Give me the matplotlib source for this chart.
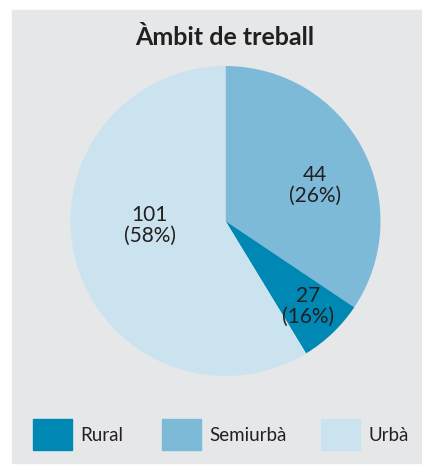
import matplotlib
matplotlib.use('Agg')
import matplotlib.pyplot as plt
from matplotlib.patches import Rectangle

plt.rcParams['font.family'] = ['Lato', 'DejaVu Sans']

# Data (wedge shares as drawn in the original graphic; labels as printed)
categories = ['Rural', 'Semiurbà', 'Urbà']
counts = [27, 44, 101]
percents = [16, 26, 58]
drawn_share = [6.9, 34.4, 58.7]
colors = ['#0088b5', '#7dbad8', '#cbe3ef']
bg = '#e6e7e9'

fig = plt.figure(figsize=(4.22, 4.65), dpi=100)
fig.patches.append(Rectangle((12 / 422, 2 / 465), 1, 453 / 465,
                             transform=fig.transFigure, color=bg, zorder=-5))

fig.text(0.533, 0.920, 'Àmbit de treball', ha='center', va='center',
         fontsize=18, fontweight='bold', color='#231f20')

ax = fig.add_axes([70.5 / 422, 89 / 465, 310 / 422, 310 / 465])
ax.set_zorder(2)
# semiurbà starts at 12 o'clock and goes clockwise, then rural, then urbà
order = [1, 0, 2]
ax.pie([drawn_share[i] for i in order], colors=[colors[i] for i in order],
       startangle=90, counterclock=False, radius=1,
       wedgeprops=dict(linewidth=0))
ax.set_xlim(-1, 1)
ax.set_ylim(-1, 1)
ax.set_aspect('equal')
ax.axis('off')

label_pos = {0: (0.53, -0.55), 1: (0.58, 0.23), 2: (-0.49, -0.03)}
for i in range(3):
    x, y = label_pos[i]
    ax.text(x, y, f'{counts[i]}\n({percents[i]}%)', ha='center', va='center',
            fontsize=15, color='#231f20', linespacing=1.05)

# legend
legend_x = [33, 162, 321]
for i, name in enumerate(categories):
    x0 = legend_x[i]
    fig.patches.append(Rectangle((x0 / 422, (465 - 450) / 465), 39 / 422, 31 / 465,
                                 transform=fig.transFigure, color=colors[i], zorder=1))
    fig.text((x0 + 47) / 422, (465 - 435) / 465, name, ha='left', va='center',
             fontsize=13.5, color='#231f20')

plt.savefig('out.png', dpi=100)
